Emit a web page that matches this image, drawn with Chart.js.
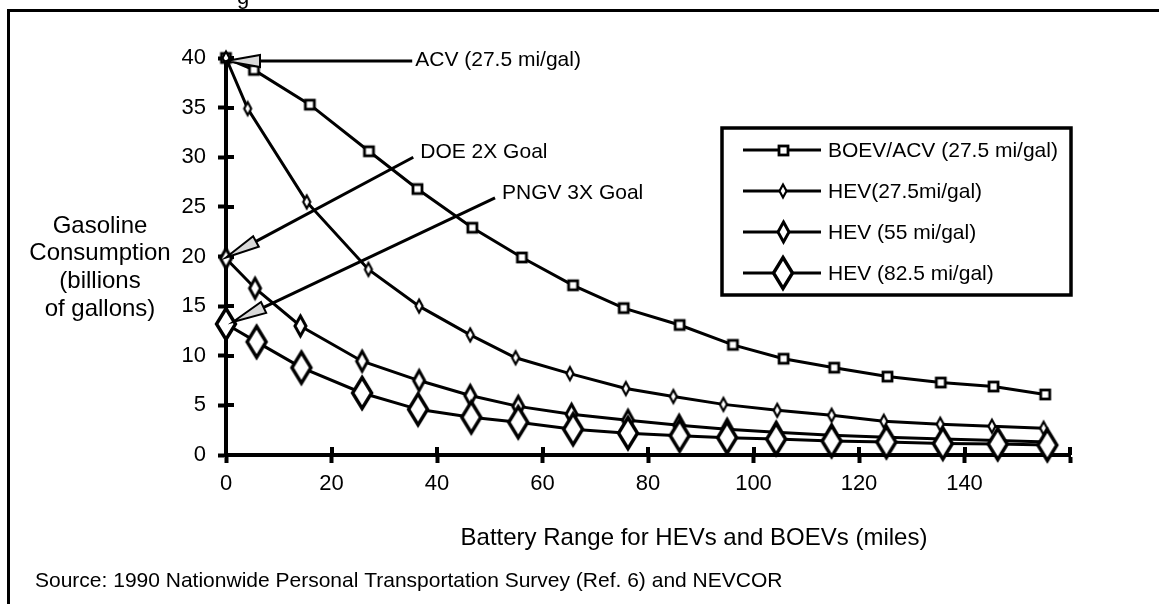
<!DOCTYPE html>
<html>
<head>
<meta charset="utf-8">
<style>
html,body{margin:0;padding:0;background:#fff;}
#wrap{width:1159px;height:604px;position:relative;overflow:hidden;}
</style>
<script src="https://cdn.jsdelivr.net/npm/chart.js@4.4.1/dist/chart.umd.min.js"></script>
</head>
<body>
<div id="wrap"><canvas id="c" width="1159" height="604"></canvas></div>
<script>
// ---------- data ----------
const seriesNames = ['BOEV/ACV (27.5 mi/gal)', 'HEV(27.5mi/gal)', 'HEV (55 mi/gal)', 'HEV (82.5 mi/gal)'];

const boevX = [0, 5.3, 15.9, 27.1, 36.3, 46.7, 56.1, 65.8, 75.4, 86.0, 96.1, 105.7, 115.3, 125.4, 135.5, 145.5, 155.3];
const boevY = [40, 38.8, 35.3, 30.6, 26.8, 22.9, 19.9, 17.1, 14.8, 13.1, 11.1, 9.7, 8.8, 7.9, 7.3, 6.9, 6.1];

const hev275X = [0, 4.1, 15.3, 27.0, 36.6, 46.3, 54.9, 65.2, 75.8, 84.8, 94.3, 104.5, 114.8, 124.7, 135.4, 145.2, 155.0];
const hev275Y = [40, 34.9, 25.5, 18.7, 15.0, 12.1, 9.8, 8.2, 6.7, 5.9, 5.1, 4.5, 4.0, 3.4, 3.1, 2.9, 2.7];

const hev55X = [0, 5.5, 14.1, 25.8, 36.6, 46.3, 55.4, 65.5, 76.2, 85.9, 95.0, 104.3, 114.8, 125.2, 135.9, 146.3, 155.7];
const hev55Y = [19.8, 16.8, 13.0, 9.45, 7.5, 6.0, 4.9, 4.1, 3.5, 3.0, 2.6, 2.3, 2.0, 1.8, 1.6, 1.45, 1.3];

const hev825X = [0, 5.8, 14.3, 25.8, 36.4, 46.5, 55.4, 65.8, 76.2, 86.0, 95.0, 104.3, 114.8, 125.2, 135.9, 146.3, 155.7];
const hev825Y = [13.2, 11.4, 8.8, 6.25, 4.6, 3.8, 3.3, 2.6, 2.2, 1.95, 1.75, 1.6, 1.4, 1.3, 1.15, 1.1, 1.0];

const xTickValues = [0, 20, 40, 60, 80, 100, 120, 140, 160];
const xTickLabels = ['0', '20', '40', '60', '80', '100', '120', '140', ''];
const yTickValues = [0, 5, 10, 15, 20, 25, 30, 35, 40];
const yTickLabels = ['0', '5', '10', '15', '20', '25', '30', '35', '40'];

const annTexts = ['ACV (27.5 mi/gal)', 'DOE 2X Goal', 'PNGV 3X Goal'];
const annTipX = [0, 0, 1.3];
const annTipY = [39.7, 19.9, 13.4];
const annEndX = [35.3, 35.5, 51.0];
const annEndY = [39.7, 30.0, 25.9];

const yTitleLines = ['Gasoline', 'Consumption', '(billions', 'of gallons)'];
const xTitle = 'Battery Range for HEVs and BOEVs (miles)';
const sourceText = 'Source: 1990 Nationwide Personal Transportation Survey (Ref. 6) and NEVCOR';

// ---------- styles ----------
const FONT = '"Liberation Sans", Arial, Helvetica, sans-serif';

function makeDiamond(w, h, lw) {
  const c = document.createElement('canvas');
  c.width = Math.ceil(w + lw * 2 + 2);
  c.height = Math.ceil(h + lw * 2 + 2);
  const g = c.getContext('2d');
  const cx = c.width / 2, cy = c.height / 2;
  g.beginPath();
  g.moveTo(cx, cy - h / 2);
  g.lineTo(cx + w / 2, cy);
  g.lineTo(cx, cy + h / 2);
  g.lineTo(cx - w / 2, cy);
  g.closePath();
  g.fillStyle = '#fff';
  g.fill();
  g.lineWidth = lw;
  g.strokeStyle = '#000';
  g.lineJoin = 'miter';
  g.stroke();
  return c;
}
function makeSquare(s, lw) {
  const c = document.createElement('canvas');
  c.width = Math.ceil(s + lw * 2 + 2);
  c.height = c.width;
  const g = c.getContext('2d');
  const o = (c.width - s) / 2;
  g.fillStyle = '#fff';
  g.fillRect(o, o, s, s);
  g.lineWidth = lw;
  g.strokeStyle = '#000';
  g.strokeRect(o, o, s, s);
  return c;
}
const mkSquare = makeSquare(9, 2.8);
const mkSmall = makeDiamond(7, 13, 2.2);
const mkMed = makeDiamond(11, 20, 3);
const mkLarge = makeDiamond(19, 31, 3.4);
const markers = [mkSquare, mkSmall, mkMed, mkLarge];

function pts(xs, ys) { return xs.map((x, i) => ({ x: x, y: ys[i] })); }

const seriesData = [pts(boevX, boevY), pts(hev275X, hev275Y), pts(hev55X, hev55Y), pts(hev825X, hev825Y)];

const datasets = seriesData.map((d, i) => ({
  label: seriesNames[i],
  data: d,
  showLine: true,
  borderColor: '#000',
  borderWidth: 3,
  pointStyle: markers[i],
  pointRadius: 8,
  clip: false,
  order: 3 - i
}));

// ---------- decoration plugin ----------
function drawArrow(ctx, tx, ty, ex, ey) {
  const dx = ex - tx, dy = ey - ty;
  const len = Math.hypot(dx, dy);
  const ux = dx / len, uy = dy / len;
  const L = 34, HW = 6;
  const bx = tx + ux * L, by = ty + uy * L;
  ctx.beginPath();
  ctx.moveTo(bx, by);
  ctx.lineTo(ex, ey);
  ctx.lineWidth = 3;
  ctx.strokeStyle = '#000';
  ctx.stroke();
  ctx.beginPath();
  ctx.moveTo(tx, ty);
  ctx.lineTo(bx - uy * HW, by + ux * HW);
  ctx.lineTo(bx + uy * HW, by - ux * HW);
  ctx.closePath();
  ctx.fillStyle = '#d9d9d9';
  ctx.fill();
  ctx.lineWidth = 2;
  ctx.lineJoin = 'miter';
  ctx.stroke();
}

const deco = {
  id: 'deco',
  beforeDatasetsDraw(chart) {
    const ctx = chart.ctx;
    const xs = chart.scales.x, ys = chart.scales.y;
    const a = chart.chartArea;
    ctx.save();
    ctx.strokeStyle = '#000';
    ctx.lineWidth = 4;
    xs.ticks.forEach(t => {
      const px = Math.round(xs.getPixelForValue(t.value));
      ctx.beginPath();
      ctx.moveTo(px, a.bottom);
      ctx.lineTo(px, a.bottom - 8);
      ctx.stroke();
    });
    ys.ticks.forEach(t => {
      const py = Math.round(ys.getPixelForValue(t.value));
      ctx.beginPath();
      ctx.moveTo(a.left, py);
      ctx.lineTo(a.left + 8, py);
      ctx.stroke();
    });
    ctx.restore();
  },
  afterDatasetsDraw(chart) {
    const ctx = chart.ctx;
    const xs = chart.scales.x, ys = chart.scales.y;
    ctx.save();
    annTexts.forEach((t, i) => {
      const tx = xs.getPixelForValue(annTipX[i]), ty = ys.getPixelForValue(annTipY[i]);
      const ex = xs.getPixelForValue(annEndX[i]), ey = ys.getPixelForValue(annEndY[i]);
      drawArrow(ctx, tx, ty, ex, ey);
      ctx.fillStyle = '#000';
      ctx.font = '21px ' + FONT;
      ctx.textBaseline = 'middle';
      ctx.textAlign = 'left';
      const sloped = Math.abs(ey - ty) > 1;
      ctx.fillText(t, ex + (sloped ? 7 : 3), ey - (sloped ? 5 : 1));
    });
    ctx.restore();
  },
  afterDraw(chart) {
    const ctx = chart.ctx;
    ctx.save();
    ctx.fillStyle = '#000';
    ctx.strokeStyle = '#000';
    // frame
    ctx.lineWidth = 3;
    ctx.beginPath();
    ctx.moveTo(8.5, 604);
    ctx.lineTo(8.5, 10.5);
    ctx.lineTo(1159, 10.5);
    ctx.stroke();
    // cut-off caption fragment above frame
    ctx.font = '22px ' + FONT;
    ctx.textBaseline = 'alphabetic';
    ctx.textAlign = 'left';
    ctx.fillText('g', 237, 4);
    // legend
    const L = { l: 722, r: 1071, t: 128, b: 295 };
    ctx.lineWidth = 3.5;
    ctx.strokeRect(L.l, L.t, L.r - L.l, L.b - L.t);
    const rowY = [150, 191, 232, 273];
    ctx.font = '21px ' + FONT;
    ctx.textBaseline = 'middle';
    seriesNames.forEach((n, i) => {
      const y = rowY[i];
      ctx.lineWidth = 3;
      ctx.beginPath();
      ctx.moveTo(743, y);
      ctx.lineTo(821, y);
      ctx.stroke();
      const m = markers[i];
      ctx.drawImage(m, Math.round(783 - m.width / 2), Math.round(y - m.height / 2));
      ctx.fillText(n, 828, y + 1);
    });
    // y title
    ctx.font = '24px ' + FONT;
    ctx.textAlign = 'center';
    ctx.textBaseline = 'middle';
    yTitleLines.forEach((s, i) => ctx.fillText(s, 100, 226 + i * 27.8));
    // x title
    ctx.fillText(xTitle, 694, 538);
    // source
    ctx.font = '21px ' + FONT;
    ctx.textAlign = 'left';
    ctx.fillText(sourceText, 35, 581);
    ctx.restore();
  }
};

const tickFont = { family: FONT, size: 22 };

new Chart(document.getElementById('c'), {
  type: 'scatter',
  data: { datasets: datasets },
  options: {
    responsive: false,
    animation: false,
    devicePixelRatio: 1,
    events: [],
    layout: { padding: { left: 0, right: 89, top: 58, bottom: 0 } },
    plugins: { legend: { display: false }, tooltip: { enabled: false } },
    scales: {
      x: {
        type: 'linear',
        min: 0, max: 160,
        afterBuildTicks: s => { s.ticks = xTickValues.map(v => ({ value: v })); },
        afterFit: s => { s.height = 149; },
        ticks: {
          color: '#000', font: tickFont, padding: 8, maxRotation: 0, autoSkip: false,
          callback: (v, i) => xTickLabels[i]
        },
        grid: { drawOnChartArea: false, drawTicks: true, tickLength: 8, tickWidth: 4, tickColor: '#000' },
        border: { display: true, color: '#000', width: 4 }
      },
      y: {
        type: 'linear',
        min: 0, max: 40,
        afterBuildTicks: s => { s.ticks = yTickValues.map(v => ({ value: v })); },
        afterFit: s => { s.width = 226; },
        ticks: {
          color: '#000', font: tickFont, padding: 12, autoSkip: false,
          callback: (v, i) => yTickLabels[i]
        },
        grid: { drawOnChartArea: false, drawTicks: true, tickLength: 8, tickWidth: 4, tickColor: '#000' },
        border: { display: true, color: '#000', width: 4 }
      }
    }
  },
  plugins: [deco]
});
</script>
</body>
</html>
